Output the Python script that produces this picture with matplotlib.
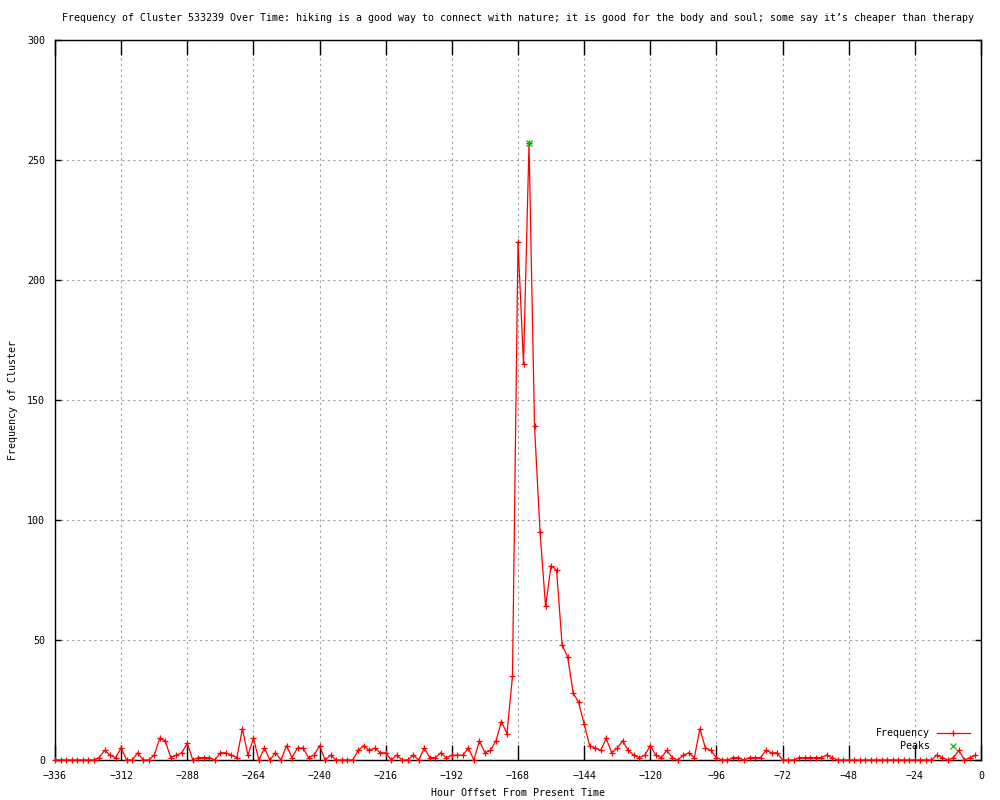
import matplotlib
matplotlib.use("Agg")
import matplotlib.pyplot as plt
import numpy as np

plt.rcParams['font.family'] = ['DejaVu Sans Mono']
plt.rcParams['font.size'] = 7.2

# hours before now, one sample every 2 hours
hours = list(range(-336, 0, 2))
freq = [
    0, 0, 0, 0, 0, 0, 0, 0, 1, 4,        # -336 .. -318
    2, 1, 5, 0, 0, 3, 0, 0, 2, 9,        # -316 .. -298
    8, 1, 2, 3, 7, 0, 1, 1, 1, 0,        # -296 .. -278
    3, 3, 2, 1, 13, 2, 9, 0, 5, 0,       # -276 .. -258
    3, 0, 6, 1, 5, 5, 1, 2, 6, 0,        # -256 .. -238
    2, 0, 0, 0, 0, 4, 6, 4, 5, 3,        # -236 .. -218
    3, 0, 2, 0, 0, 2, 0, 5, 1, 1,        # -216 .. -198
    3, 1, 2, 2, 2, 5, 0, 8, 3, 4,        # -196 .. -178
    8, 16, 11, 35, 216, 165, 257, 139, 95, 64,   # -176 .. -158
    81, 79, 48, 43, 28, 24, 15, 6, 5, 4,  # -156 .. -138
    9, 3, 5, 8, 4, 2, 1, 2, 6, 2,        # -136 .. -118
    1, 4, 1, 0, 2, 3, 1, 13, 5, 4,       # -116 .. -98
    1, 0, 0, 1, 1, 0, 1, 1, 1, 4,        # -96 .. -78
    3, 3, 0, 0, 0, 1, 1, 1, 1, 1,        # -76 .. -58
    2, 1, 0, 0, 0, 0, 0, 0, 0, 0,        # -56 .. -38
    0, 0, 0, 0, 0, 0, 0, 0, 0, 0,        # -36 .. -18
    2, 1, 0, 1, 4, 0, 1, 2,              # -16 .. -2
]
peak_hours = [-164]
peak_vals = [257]

fig = plt.figure(figsize=(10, 8), dpi=100)
ax = fig.add_axes([0.055, 0.05, 0.926, 0.9])

ax.plot(hours, freq, color='#ff0000', lw=0.9, marker='+', ms=5, mew=0.9,
        clip_on=False, zorder=3)
ax.plot(peak_hours, peak_vals, color='#00c000', ls='none', marker='x', ms=4.5,
        mew=0.9, clip_on=False, zorder=4)

ax.set_xlim(-336, 0)
ax.set_ylim(0, 300)
ax.set_xticks(np.arange(-336, 1, 24))
ax.set_yticks(np.arange(0, 301, 50))
ax.grid(True, color='#a0a0a0', ls=(0, (2, 3)), lw=0.8)
ax.set_axisbelow(True)
ax.tick_params(axis='x', direction='in', length=11, width=1, top=True, pad=8)
ax.tick_params(axis='y', direction='in', length=4, width=1, right=True, pad=7)
for s in ax.spines.values():
    s.set_linewidth(1)

xl = ax.set_xlabel('Hour Offset From Present Time')
yl = ax.set_ylabel('Frequency of Cluster')
ax.xaxis.set_label_coords(0.5, -0.046)
ax.yaxis.set_label_coords(-0.045, 0.5)
xl.set_va('center')
yl.set_va('center')

fig.text(0.5175, 0.977,
         'Frequency of Cluster 533239 Over Time: hiking is a good way to connect '
         'with nature; it is good for the body and soul; some say it\u2019s cheaper than therapy',
         ha='center', va='center')

# legend, gnuplot style (text right aligned, sample on the right)
ax.text(0.945, 0.0375, 'Frequency', transform=ax.transAxes, ha='right', va='center')
ax.text(0.945, 0.0194, 'Peaks', transform=ax.transAxes, ha='right', va='center')
ax.plot([0.9525, 0.988], [0.0375, 0.0375], transform=ax.transAxes,
        color='#ff0000', lw=0.9)
ax.plot([0.9698], [0.0375], transform=ax.transAxes, color='#ff0000',
        marker='+', ms=5, mew=0.9)
ax.plot([0.9698], [0.0194], transform=ax.transAxes, color='#00c000',
        marker='x', ms=4.5, mew=0.9)

fig.savefig('out.png', dpi=100)
